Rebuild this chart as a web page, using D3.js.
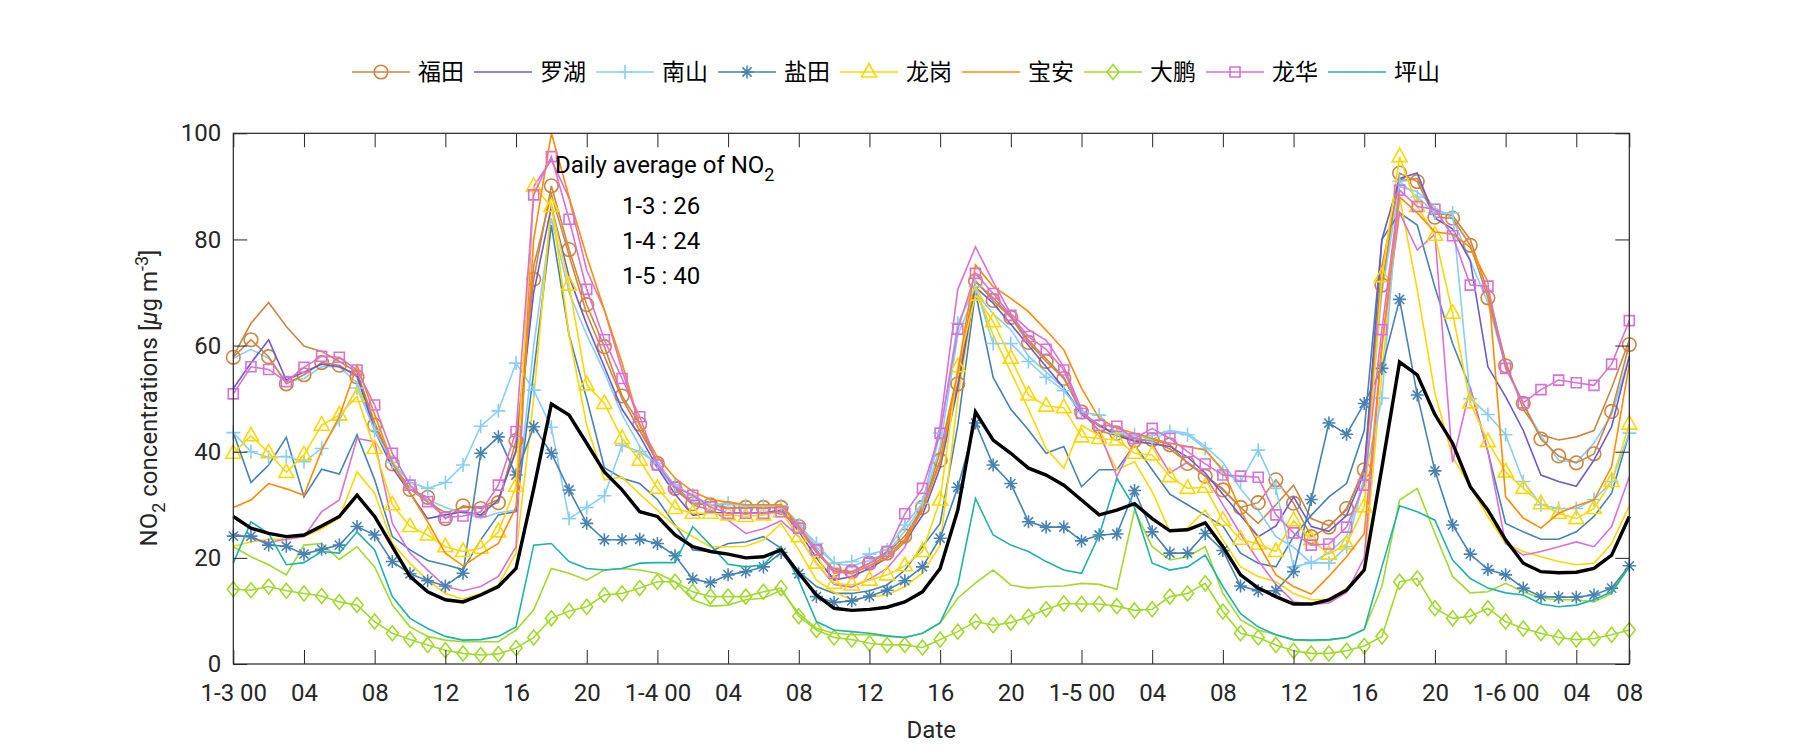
<!DOCTYPE html>
<html>
<head>
<meta charset="utf-8">
<script src="https://cdn.jsdelivr.net/npm/d3@7"></script>
<style>
  body { margin: 0; background: #ffffff; }
  svg { display: block; }
  text { font-family: Roboto, "Liberation Sans", "Noto Sans CJK SC", sans-serif; }
</style>
</head>
<body>
<svg id="chart" width="1800" height="750"></svg>
<script>
// ---------------- DATA ----------------
const tickIndex = [0,4,8,12,16,20,24,28,32,36,40,44,48,52,56,60,64,68,72,76,79];
const tickLabels = ["1-3 00","04","08","12","16","20","1-4 00","04","08","12","16","20","1-5 00","04","08","12","16","20","1-6 00","04","08"];
const yTicks = [0,20,40,60,80,100];

const legendNames   = ["福田","罗湖","南山","盐田","龙岗","宝安","大鹏","龙华","坪山"];
const legendColors  = ["#CD853F","#6A5ACD","#87CEFA","#4682B4","#FFD700","#FF8C00","#A0DA2C","#DA70D6","#20B2AA"];
const legendMarkers = ["circle","none","plus","asterisk","triangle","none","diamond","square","none"];

const futian = [57.8,61.1,57.9,52.8,54.5,56.8,56.3,54.1,45.0,37.7,
32.9,31.4,27.4,29.8,29.3,30.4,42.1,72.5,90.1,78.1,
67.7,59.8,50.5,45.2,37.8,33.1,30.2,30.0,29.3,29.5,
29.5,29.5,25.9,21.2,17.8,17.4,19.0,20.9,24.1,29.5,
38.4,52.8,72.2,68.5,65.3,60.6,57.0,53.8,47.5,44.8,
43.5,42.1,42.3,41.3,37.8,35.4,32.8,29.5,30.4,34.7,
30.3,24.0,25.8,29.3,36.6,71.4,92.5,90.9,84.2,84.0,
78.9,69.0,56.2,49.1,42.4,39.2,37.9,39.6,47.6,60.2];
const futian2 = [58,64.2,68.1,63.6,59.9,58.9,57,55,45.5,38,
33,30.5,28.5,29.5,29.5,31,40,75,88.5,77,
66,58,50,44,38,33.5,30.5,30,29.5,29.5,
29.5,29.5,25.5,21,17.5,17,18.5,20.5,23.5,29,
40,55,72,69,65.5,61,57.5,54,47.5,44,
43,42.5,42,40.5,38,35.5,33,29.5,26.5,30,
33.7,27.4,26.1,29,37,75,91,91.5,85,84.5,
80,70,57,48,43.2,42.2,42.8,44,52,61];
const luohu = [51.9,56.7,61.1,53.5,55,56.5,56,54.5,44,37,
32.2,27.4,28.1,28.7,28.1,30.9,40.3,70,86.2,73,
64,56,48,43,37,32,28,28.5,28.5,28.5,
28.5,29,25,20,15.8,16.5,18,20,23,28,
37,52,71,68,64,60,56,52,47,45,
43,42,41.5,41,39,36,32,28,24,26,
31.5,25.9,25,28,36,80,91.5,92.5,84,82,
76,56,50.4,44,35.6,34.4,33.5,38.4,44.7,58];
const nanshan = [43.6,40,38.9,39.1,38.1,40.6,46,52,44,38,
34.2,33.1,34.2,37.5,44.8,47.7,56.7,51.6,44.6,27.4,
29.5,31.7,41.2,40,37.8,33.7,31.8,30,30.3,29.8,
29.8,29.8,26.2,22.7,19,19.3,20.7,21.5,26.2,30.3,
43.5,64.2,71.1,60.4,60.4,57,54,51.5,47.5,46.9,
43.5,43.2,42.3,43.8,43.2,40.6,36.2,34.4,40.3,33.1,
18.3,19.1,19,22.1,34.7,50.1,91,88,85,85,
50,47,43.2,34.4,30,29.3,29.3,31,34.4,43.5];
const nanshan2 = [57.6,59.3,57.6,53.2,53.8,56,56,53,44,38,
33,31,29.5,28.5,27.5,28.5,29,60,84,70,
62,55,47,41,37,33,30.5,30,30,30,
30,30,26.5,22,19,18.5,19.5,21,25,30,
41,62,70,66,63,58,55,52,47.5,45,
43,43,43,44,43.5,41,38,33,29,24,
22,19,21,24,35,70,90,89,86,84,
76,68,56,49,43,38.4,38,41.6,47,58];
const yantian = [24.1,24.1,22.4,22.2,20.7,21.6,22.4,25.9,24.3,19.3,
17.0,15.7,14.7,17.1,39.7,42.8,35.6,44.7,39.7,32.8,
26.5,23.4,23.4,23.5,22.7,20.4,16.0,15.3,16.8,17.4,
18.3,21.0,17.0,12.7,11.6,11.9,12.8,13.9,15.7,18.3,
23.7,33.3,45.4,37.5,34.0,26.8,25.8,25.8,23.2,24.3,
24.5,32.7,24.9,20.9,20.9,24.6,21.4,14.7,13.8,13.8,
17.4,31,45.4,43.3,49.1,55.7,68.7,50.7,36.4,26.2,
20.7,17.8,16.8,14.3,12.7,12.6,12.6,13.0,14.3,18.5];
const yantian2 = [43.6,34.2,37.5,42.7,31.5,36.7,35.8,43.2,34.7,24,
21.5,19.5,18.7,17.8,23.4,28.1,28.7,55,82.7,62,
50,37,35,34,31,26.2,21.5,21.2,22.7,23,
24,21.8,17.4,14.6,13.3,13.3,13.8,14.9,17.7,22.1,
26.5,45,70,54,48,44.1,39.7,41,33.4,36.6,
36.6,41.3,36.6,32,30,28,26,20.9,19,18.3,
24,28,31.5,34,44,80,85,82.7,71,60.4,
52,40,26.5,24.9,23.5,23.5,24.9,27.8,32.2,43.5];
const longgang = [39.7,43,39.8,36.1,39.4,45,46.9,50.4,40.6,30,
25.9,24.3,22.1,21.2,21.8,24.9,33.5,90,86.2,71.4,
52.6,49.1,42.5,38.4,33.1,29.3,28.4,28.4,28.1,27.8,
28.1,28.7,24,19,15.2,14.9,15.8,16.8,18.5,21.2,
30.9,56,69.5,64.5,57.6,50.7,48.6,48.3,42.8,42.5,
42.2,39.7,39.4,35.3,33.1,33.3,27.1,23.5,22.6,21.2,
27,23.4,20.7,22.6,29.6,73,95.6,86.2,80.8,66.1,
49.2,41.9,36.2,33.1,30.2,28.4,27.4,29.3,34.4,45.2];
const longgang2 = [22.2,23,23.5,23.5,24,25.5,27.5,36.2,32.2,22.7,
19,15.8,13.3,12.2,13.3,14.9,20.9,50,87,62,
45,34.7,35.2,32,29,26,24,22.1,22.1,22.2,
23.4,26.5,21.5,15.8,13.5,12.1,12.7,13,14.6,17.1,
22.4,50,71,62,55,48,40.6,36.9,45,43,
36.6,38.1,32.5,24.9,25.6,29,23.4,18.3,16.5,15.5,
13.3,12.1,12.2,14.3,18,55,88,70.5,51,39,
33.4,27.8,22.7,21.2,20.2,19.3,18.7,19,22.7,29.8];
const baoan = [29.5,30.9,34,33,31.8,40.3,46.6,56.3,47,38,
32.2,26.8,20.9,18.5,20.7,22.7,29.6,80,100,88,
76.8,66.7,56.7,45,39,35,32.5,31,30.5,30,
30,30,26,21.5,17.5,17,18.5,20,23,29,
38,55,75.2,71.1,68.9,66.4,62.9,59.2,52,46.3,
44.4,43.5,42.5,41.6,41,40.3,36.6,29,22.7,16.8,
14.6,13.2,16.5,20.2,24.6,60,88,85,81.4,81,
78.5,72,31.5,27.5,25.6,28.4,29.8,30.9,37.2,56.5];
const dapeng = [14.1,13.9,14.6,13.8,13.3,12.8,11.7,11.1,8,5.8,
4.6,3.6,2.6,2,1.7,1.9,3,5,8.6,10,
10.8,13,13.3,14.3,15.5,15.5,13.6,12.7,12.7,12.7,
13.6,14.3,9,6.4,5,4.6,3.9,3.6,3.6,3.1,
4.6,6.1,8,7.3,7.8,8.9,10.3,11.4,11.3,11.3,
10.9,10.1,10.3,12.7,13.3,15.2,9.9,5.8,5,3.6,
2.5,2,2,2.5,3.4,5.2,15.5,16.1,10.5,8.6,
9,10.5,8,6.7,5.8,5,4.6,4.8,5.5,6.4];
const dapeng2 = [22.1,20.2,18.7,16.8,22.4,22.7,19.7,22.1,18.3,11.1,
7,5.2,4.5,4.2,4.2,4.2,6.4,10.2,18,17.1,
15.8,17.7,18,17.7,17.1,15.5,12.1,10.9,11.1,12.1,
12.4,13.9,9.5,6.7,5.8,5.5,5.5,5.2,5,5.8,
7.7,12.4,15.3,17.7,14.9,14.3,14.6,14.7,15.2,15,
14.1,29,22.1,19.6,20.2,22.1,13.3,8.3,6.4,5.5,
4.5,4.4,4.5,5,6.5,14.6,30.9,33.1,24.6,16.5,
13.4,13.6,15.2,13.6,12.4,12.1,12.1,11.7,13.3,18.3];
const longhua = [50.9,56,55.5,53.2,55.9,58,57.8,55.4,48.8,39.7,
33.7,30.6,27.6,27.9,28.7,33.7,43.8,88.4,95.6,83.8,
70.6,61.1,53.8,46.6,37.5,33.3,31.8,29.6,28.4,28.4,
28.4,28.7,25.6,21.5,17.1,17.4,19,21.2,28.3,33.1,
43.5,63.1,73.6,69.8,65.7,61.7,59.3,55.4,47.2,45,
44.8,42.5,44.4,42.5,40,37.7,35.6,35.4,35.2,28.1,
24.7,22.4,22.6,25.8,33.7,63,89.3,86.2,85.7,80.7,
71.4,71.2,55.7,49.2,51.7,53.5,53,52.5,56.5,64.7];
const longhua2 = [24.6,23.7,22.9,23.5,24,28.7,30.9,42.5,41.9,26.5,
20.9,17.7,14.6,13.8,14.6,16.5,22.1,90,95,87.8,
74.2,66.7,55.4,45,38,33,30,29,27.1,24.6,
25.5,27,24,19,15,14.5,16,18,22,30,
45,70.6,78.6,72,66,63,61,56,48,43.8,
35.3,41.9,41.5,36,38,35.5,30,24.5,19.5,15,
11.7,11.2,11.5,13.5,20,60,85,78,81,38,
52,40,22.7,20.5,21.2,22.1,23,22.1,25.9,35.3];
const pingshan = [19,26.8,24.6,18.7,19.1,21.2,20.9,24.9,21.5,12.7,
8.6,6.7,5.2,4.5,4.6,5.2,7,22.4,22.7,19.3,
18,17.7,18,19,19.1,19.1,25.9,22.4,18.8,18.3,
18.7,22.1,15.8,8,6.4,6.1,5.8,5.3,5,5.8,
7.8,14.9,31.2,24.3,22.4,21.2,19.3,17.7,17.1,24.3,
35,29.5,19,17.7,18.3,20.5,14.6,9.5,7,5.5,
4.6,4.5,4.6,5,6.5,18.3,29.8,28.7,27.1,19.6,
16.1,14.3,13.4,13,11.3,10.8,11.1,12.1,13.6,18.3];
const average = [27.8,25.6,24.6,24.0,24.3,26.0,27.8,31.8,27.8,22.1,
16.5,13.6,12.1,11.7,13.0,14.6,18.0,33,49,46.9,
41.6,36.2,32.8,28.7,27.8,24.3,22.1,21.2,20.7,20.0,
20.2,21.5,17.1,13.0,10.5,10.1,10.3,10.7,11.7,13.6,
18.0,29.0,47.5,42.2,39.7,36.9,35.6,33.7,30.9,28.1,
29.0,30.2,27.4,25.1,25.3,26.6,22.1,16.8,14.3,12.7,
11.3,11.3,12.1,13.9,17.7,37,56.9,54.5,47,41.6,
33.4,29.0,23.4,19.0,17.4,17.2,17.3,18.0,20.5,27.8];

const dailyAvgLabels = ["1-3 : 26","1-4 : 24","1-5 : 40"];

// ---------------- TABLE ----------------
const primary = [futian, luohu, nanshan, yantian, longgang, baoan, dapeng, longhua, pingshan];
// secondary (unlabelled) lines: [values, legend index for colour]
const secondary = [[futian2,0],[nanshan2,2],[yantian2,3],[longgang2,4],[dapeng2,6],[longhua2,7]];

// ---------------- LAYOUT ----------------
const svg = d3.select("#chart");
const X0 = 233.3, X1 = 1629.3, Y0 = 664, Y1 = 133.3;
const x = d3.scaleLinear().domain([0, 79]).range([X0, X1]);
const y = d3.scaleLinear().domain([0, 100]).range([Y0, Y1]);
const axisColor = "#262626";

svg.append("rect").attr("width",1800).attr("height",750).attr("fill","#fff");

function markerPath(type) {
  switch (type) {
    case "circle":   return "M6.8,0A6.8,6.8 0 1,1 -6.8,0A6.8,6.8 0 1,1 6.8,0Z";
    case "square":   return "M-5,-5H5V5H-5Z";
    case "triangle": return "M0,-8.5L7.5,5L-7.5,5Z";
    case "diamond":  return "M0,-7.5L6,0L0,7.5L-6,0Z";
    case "plus":     return "M-7,0H7M0,-7V7";
    case "asterisk": return "M-6.5,0H6.5M0,-6.5V6.5M-4.6,-4.6L4.6,4.6M-4.6,4.6L4.6,-4.6";
    default: return null;
  }
}

const line = d3.line().x((d, i) => x(i)).y(d => y(d));
const plotG = svg.append("g");

function drawSeries(values, color, marker, width) {
  const g = plotG.append("g");
  g.append("path").attr("d", line(values)).attr("fill","none")
    .attr("stroke", color).attr("stroke-width", width).attr("stroke-linejoin","miter");
  const mp = markerPath(marker);
  if (mp) {
    g.selectAll("path.m").data(values).join("path").attr("class","m")
      .attr("d", mp).attr("transform", (d, i) => `translate(${x(i)},${y(d)})`)
      .attr("fill","none").attr("stroke", color).attr("stroke-width", 1.6);
  }
}

secondary.forEach(([vals, k]) => drawSeries(vals, legendColors[k], "none", 1.6));
primary.forEach((vals, k) => drawSeries(vals, legendColors[k], legendMarkers[k], 1.6));
drawSeries(average, "#000000", "none", 3.4);

// ---------------- AXES ----------------
function styleAxis(g) {
  g.select(".domain").remove();
  g.selectAll(".tick line").attr("stroke", axisColor).attr("stroke-width", 1);
  g.selectAll(".tick text").attr("fill", axisColor).attr("font-size", 24)
    .attr("font-family", "Roboto, 'Liberation Sans', sans-serif");
}
svg.append("g").attr("transform", `translate(0,${Y0})`)
  .call(d3.axisBottom(x).tickValues(tickIndex).tickFormat((d, i) => tickLabels[i])
        .tickSizeInner(-14).tickSizeOuter(0).tickPadding(20)).call(styleAxis);
svg.append("g").attr("transform", `translate(0,${Y1})`)
  .call(d3.axisTop(x).tickValues(tickIndex).tickFormat("").tickSizeInner(-14).tickSizeOuter(0)).call(styleAxis);
svg.append("g").attr("transform", `translate(${X0},0)`)
  .call(d3.axisLeft(y).tickValues(yTicks).tickSizeInner(-14).tickSizeOuter(0).tickPadding(12)).call(styleAxis);
svg.append("g").attr("transform", `translate(${X1},0)`)
  .call(d3.axisRight(y).tickValues(yTicks).tickFormat("").tickSizeInner(-14).tickSizeOuter(0)).call(styleAxis);

svg.append("rect").attr("x", X0).attr("y", Y1).attr("width", X1 - X0).attr("height", Y0 - Y1)
  .attr("fill","none").attr("stroke", axisColor).attr("stroke-width", 1.2);

// axis titles
svg.append("text").attr("x", (X0 + X1) / 2).attr("y", 738).attr("text-anchor","middle")
  .attr("font-size", 24).attr("fill", axisColor).text("Date");

const yl = svg.append("text").attr("transform", "translate(157,398) rotate(-90)")
  .attr("text-anchor","middle").attr("font-size", 24).attr("fill", axisColor);
yl.append("tspan").text("NO");
yl.append("tspan").attr("dy", 8).attr("font-size", 18).text("2");
yl.append("tspan").attr("dy", -8).text(" concentrations [");
yl.append("tspan").attr("font-style","italic").text("μ");
yl.append("tspan").text("g m");
yl.append("tspan").attr("dy", -9).attr("font-size", 18).text("-3");
yl.append("tspan").attr("dy", 9).text("]");

// annotation
const ann = svg.append("text").attr("x", 555).attr("y", 173).attr("font-size", 24).attr("fill","#000");
ann.append("tspan").text("Daily average of NO");
ann.append("tspan").attr("dy", 8).attr("font-size", 18).text("2");
svg.selectAll("text.daily").data(dailyAvgLabels).join("text").attr("class","daily")
  .attr("x", 622).attr("y", (d, i) => 214 + i * 35).attr("font-size", 24).attr("fill","#000").text(d => d);

// ---------------- LEGEND ----------------
const legend = svg.append("g");
const lx0 = 352, lstep = 122, ly = 72;
legendNames.forEach((name, k) => {
  const gx = lx0 + k * lstep;
  const g = legend.append("g").attr("transform", `translate(${gx},${ly})`);
  g.append("line").attr("x1", 0).attr("x2", 58).attr("y1", 0).attr("y2", 0)
    .attr("stroke", legendColors[k]).attr("stroke-width", 1.6);
  const mp = markerPath(legendMarkers[k]);
  if (mp) g.append("path").attr("d", mp).attr("transform","translate(29,0)")
    .attr("fill","none").attr("stroke", legendColors[k]).attr("stroke-width", 1.6);
  g.append("text").attr("x", 66).attr("y", 0).attr("dy","0.36em").attr("font-size", 23)
    .attr("font-family", "'Noto Sans CJK SC', sans-serif").attr("fill","#000").text(name);
});
</script>
</body>
</html>
